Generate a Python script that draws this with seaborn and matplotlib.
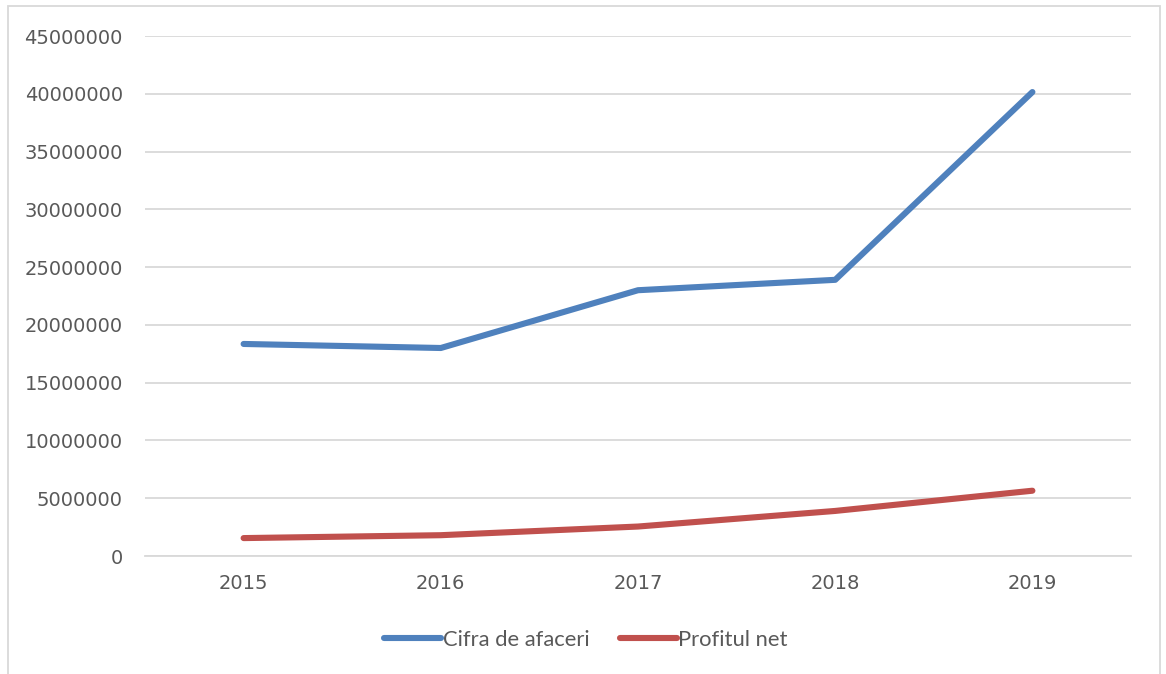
import pandas as pd
import numpy as np
import seaborn as sns
import matplotlib.pyplot as plt
from matplotlib.patches import Rectangle

# Data
years = ['2015', '2016', '2017', '2018', '2019']
cifra_afaceri = [18350000, 18000000, 23000000, 23900000, 40150000]
profit_net = [1550000, 1800000, 2550000, 3900000, 5650000]
series_names = ['Cifra de afaceri', 'Profitul net']
colors = ['#4F81BD', '#C0504D']

df = pd.DataFrame({'An': years * 2,
                   'Valoare': cifra_afaceri + profit_net,
                   'Serie': [series_names[0]] * 5 + [series_names[1]] * 5})

sns.set_style('white')
plt.rcParams['font.family'] = ['DejaVu Sans']

fig = plt.figure(figsize=(11.66, 6.74), dpi=100)
ax = fig.add_axes([145 / 1166, 1 - 556 / 674, 986 / 1166, 520 / 674])

sns.lineplot(data=df, x='An', y='Valoare', hue='Serie', palette=colors,
             linewidth=4.4, ax=ax, sort=False,
             solid_capstyle='round', solid_joinstyle='round')

ax.set_xlim(-0.5, 4.5)
ax.set_ylim(0, 45000000)
ax.set_yticks(np.arange(0, 45000001, 5000000))
ax.set_yticklabels([str(v) for v in range(0, 45000001, 5000000)])
ax.grid(axis='y', color='#D9D9D9', linewidth=1.3)
ax.set_axisbelow(True)
for s in ['top', 'right', 'left']:
    ax.spines[s].set_visible(False)
ax.spines['bottom'].set_color('#D9D9D9')
ax.spines['bottom'].set_linewidth(1.3)
ax.tick_params(axis='both', length=0, labelsize=14, labelcolor='#595959')
ax.tick_params(axis='y', pad=16)
ax.tick_params(axis='x', pad=13)
ax.set_xlabel('')
ax.set_ylabel('')

handles, labels = ax.get_legend_handles_labels()
ax.get_legend().remove()
leg = fig.legend(handles, labels, loc='center', bbox_to_anchor=(586 / 1166, 1 - 640 / 674),
                 ncol=2, frameon=False,
                 handlelength=2.6, handletextpad=0.05, columnspacing=1.4,
                 prop={'family': 'Lato', 'size': 15.8})
for t in leg.get_texts():
    t.set_color('#595959')
for h in leg.get_lines():
    h.set_linewidth(4.4)
    h.set_solid_capstyle('round')

# outer chart border
fig.patches.append(Rectangle((8 / 1166, -0.01), 1152 / 1166, 1.01 - 6 / 674,
                             transform=fig.transFigure, fill=False,
                             edgecolor='#D9D9D9', linewidth=1.3))

fig.savefig('out.png', dpi=100)
